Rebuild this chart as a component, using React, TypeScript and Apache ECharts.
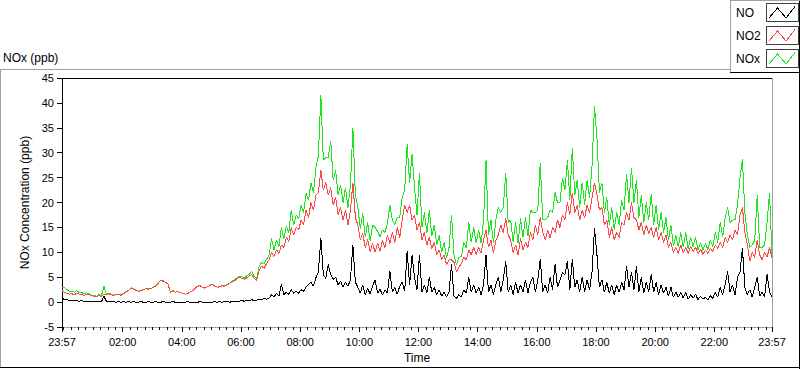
import React, { useEffect, useRef } from "react";
import * as echarts from "echarts";

// Sampling: one value every 5 minutes, first sample at 23:57 (minute -3 of the day)
const SAMPLE_START_MIN = -3;
const SAMPLE_STEP_MIN = 5;

// NO (ppb) — one row per hour starting 23:57
const NO_PPB = [
  0.7, 0.6, 0.5, 0.4, 0.3, 0.4, 0.3, 0.2, 0.3, 0.2, 0.2, 0.1,
  0.1, 0.2, 0.1, 0.2, 0.1, 1.2, 0.2, 0.1, 0.1, 0.1, 0.0, 0.1,
  0.0, 0.1, 0.0, 0.1, 0.0, 0.1, 0.0, 0.0, 0.1, 0.0, 0.0, 0.1,
  0.0, 0.0, 0.1, 0.0, 0.0, 0.1, 0.0, 0.0, 0.0, 0.1, 0.0, 0.0,
  0.0, 0.0, 0.0, 0.1, 0.0, 0.0, 0.0, 0.0, 0.1, 0.0, 0.0, 0.0,
  0.0, 0.0, 0.1, 0.0, 0.1, 0.0, 0.1, 0.1, 0.0, 0.1, 0.2, 0.1,
  0.2, 0.3, 0.2, 0.4, 0.3, 0.5, 0.3, 0.4, 0.6, 0.5, 0.8, 0.6,
  0.8, 1.5, 1.0, 1.8, 1.2, 3.6, 1.5, 2.0, 1.6, 2.5, 1.8, 2.2,
  1.8, 2.5, 2.2, 3.0, 3.5, 4.0, 3.2, 4.9, 6.0, 12.9, 5.5, 4.8,
  7.6, 5.5, 4.6, 5.0, 3.5, 4.2, 3.0, 4.0, 3.2, 4.5, 11.5, 4.0,
  3.0, 1.8, 3.5, 1.5, 2.8, 1.6, 3.2, 4.5, 1.8, 2.6, 1.5, 2.5,
  1.8, 6.2, 2.0, 3.0, 1.6, 3.2, 4.0, 2.2, 10.2, 3.5, 9.5, 4.9,
  2.5, 9.5, 2.0, 3.5, 1.8, 5.0, 2.0, 3.0, 1.5, 2.5, 1.2, 2.0,
  1.0, 2.0, 7.6, 1.2, 0.8, 1.5, 1.0, 2.5, 1.8, 5.0, 2.0, 3.5,
  1.8, 3.0, 1.5, 3.5, 9.5, 2.0, 3.5, 1.5, 3.5, 5.0, 2.0, 4.5,
  8.2, 2.0, 3.5, 1.5, 4.0, 1.8, 3.5, 2.0, 4.5, 1.8, 4.0, 5.0,
  2.0, 4.5, 8.6, 2.0, 3.5, 1.8, 5.0, 2.5, 7.6, 3.0, 4.5, 6.0,
  5.5, 8.2, 2.5, 8.6, 3.0, 4.5, 2.0, 5.0, 2.0, 4.5, 2.5, 6.0,
  14.8, 9.5, 3.0, 4.5, 2.0, 4.0, 1.8, 3.5, 1.5, 3.5, 2.0, 4.0,
  2.5, 7.2, 3.0, 6.0, 2.5, 7.2, 2.0, 5.0, 1.8, 4.0, 2.0, 5.6,
  2.0, 4.0, 1.5, 3.5, 1.8, 3.0, 1.2, 3.0, 1.0, 2.0, 1.0, 2.0,
  0.8, 2.0, 0.6, 1.5, 0.8, 1.6, 0.5, 1.2, 0.6, 1.0, 0.5, 1.3,
  0.8, 2.0, 1.0, 3.0, 1.5, 3.5, 6.2, 2.0, 3.5, 1.5, 5.0, 6.0,
  10.9, 3.0, 1.5, 2.5, 1.0, 3.0, 5.0, 1.2, 2.0, 1.0, 5.6, 2.0,
  1.0,
];

// NO2 (ppb)
const NO2_PPB = [
  2.3, 2.0, 1.8, 1.6, 1.7, 1.5, 1.8, 1.6, 1.5, 1.4, 1.6, 1.5,
  1.3, 1.2, 1.1, 1.3, 1.2, 1.6, 1.5, 1.7, 1.5, 1.3, 1.6, 1.5,
  1.4, 1.7, 2.1, 2.3, 2.9, 2.6, 2.4, 2.2, 2.3, 2.5, 2.7, 2.6,
  2.7, 3.0, 3.2, 3.8, 4.4, 4.2, 4.0, 3.6, 2.0, 2.2, 2.0, 2.1,
  2.0, 1.8, 1.6, 1.7, 2.1, 2.3, 2.8, 3.2, 3.3, 3.0, 2.8, 3.1,
  3.4, 3.6, 3.2, 3.0, 3.1, 3.3, 3.2, 3.5, 3.8, 4.1, 4.3, 4.8,
  5.0, 4.8, 4.6, 4.9, 5.3, 5.5, 4.8, 4.4, 6.5, 7.2, 6.8, 7.8,
  8.5, 10.0, 9.2, 10.5, 9.8, 11.5, 11.0, 13.0, 12.2, 15.0, 13.5, 15.0,
  14.5, 16.5, 15.5, 18.5, 17.0, 20.0, 18.5, 21.5, 22.0, 26.5, 22.5, 24.0,
  21.5, 23.0, 19.5, 21.0, 17.5, 19.0, 16.5, 18.5, 15.5, 18.5, 24.0, 17.0,
  15.5, 12.5, 13.8, 11.0, 12.6, 10.2, 11.8, 10.0, 11.9, 10.2, 12.4, 11.0,
  13.5, 11.8, 14.0, 12.0, 15.0, 13.0, 16.5, 19.5, 18.0, 19.5, 16.5, 17.5,
  14.5, 16.0, 12.5, 14.0, 11.5, 13.0, 10.8, 12.0, 9.5, 10.5, 8.5, 9.5,
  7.5, 8.5, 8.5, 8.0, 6.2, 7.0, 7.8, 9.0, 8.5, 10.5, 9.5, 11.0,
  9.5, 11.0, 9.8, 12.5, 14.5, 11.0, 12.5, 9.8, 12.5, 13.5, 15.5, 14.0,
  16.8, 13.5, 12.5, 10.0, 11.5, 9.5, 12.8, 10.5, 12.0, 11.0, 14.0, 12.5,
  15.5, 13.5, 17.0, 14.0, 12.5, 14.5, 12.9, 15.0, 14.0, 16.5, 15.0, 17.5,
  16.5, 20.0, 17.5, 22.0, 18.0, 19.5, 16.5, 18.5, 17.0, 19.5, 18.0, 21.0,
  24.0, 21.5, 18.5, 19.0, 15.5, 16.5, 13.0, 15.0, 12.5, 14.0, 13.0, 16.0,
  15.5, 18.0, 16.5, 20.0, 17.0, 16.5, 14.5, 16.0, 13.5, 15.5, 13.8, 15.0,
  13.0, 15.0, 12.5, 14.0, 12.0, 13.5, 11.0, 12.0, 10.0, 11.0, 9.8, 11.5,
  10.0, 11.0, 9.8, 11.2, 10.2, 11.0, 9.8, 10.6, 9.6, 10.5, 9.8, 10.8,
  10.2, 11.5, 10.8, 12.0, 11.0, 13.0, 12.0, 13.5, 12.5, 14.5, 13.5, 17.5,
  19.0, 14.0, 11.5, 8.2, 10.0, 9.0, 12.5, 9.5, 8.5, 10.0, 9.0, 11.0,
  8.9,
];

// NOx (ppb)
const NOX_PPB = [
  3.0, 2.9, 2.5, 2.2, 2.2, 2.0, 2.3, 1.9, 1.9, 1.7, 1.9, 1.7,
  1.4, 1.4, 1.2, 1.5, 1.3, 3.2, 1.7, 1.8, 1.6, 1.4, 1.6, 1.6,
  1.4, 1.8, 2.1, 2.4, 2.9, 2.7, 2.4, 2.2, 2.4, 2.5, 2.7, 2.7,
  2.7, 3.0, 3.3, 3.8, 4.4, 4.3, 4.0, 3.6, 2.0, 2.3, 2.0, 2.1,
  2.0, 1.8, 1.6, 1.8, 2.1, 2.3, 2.8, 3.2, 3.4, 3.0, 2.8, 3.1,
  3.4, 3.6, 3.3, 3.0, 3.2, 3.3, 3.3, 3.6, 3.8, 4.2, 4.5, 4.9,
  5.2, 5.1, 4.8, 5.3, 5.6, 6.2, 5.1, 4.8, 7.3, 7.9, 7.8, 8.6,
  9.5, 12.8, 10.5, 12.5, 11.2, 15.0, 12.8, 15.2, 14.0, 18.5, 15.5, 17.5,
  16.8, 19.5, 18.0, 21.8, 20.5, 24.0, 22.0, 27.0, 29.4, 41.6, 28.5, 29.0,
  29.0, 32.4, 24.5, 26.5, 21.5, 23.5, 20.0, 23.0, 19.0, 23.5, 35.0, 21.5,
  19.0, 14.8, 17.8, 13.0, 16.0, 12.2, 15.5, 15.0, 14.2, 13.2, 14.5, 14.0,
  15.8, 19.5, 16.5, 15.5, 17.0, 17.0, 21.0, 22.5, 31.7, 24.0, 29.7, 23.0,
  17.5, 26.0, 15.0, 18.0, 13.8, 18.5, 13.2, 15.5, 11.5, 13.5, 10.0, 12.0,
  8.8, 11.0, 17.5, 9.5, 7.5, 9.0, 9.2, 12.0, 10.8, 16.0, 12.0, 15.0,
  11.8, 14.5, 11.8, 16.5, 28.5, 13.5, 16.5, 11.8, 16.5, 19.0, 18.0, 19.0,
  26.0, 16.0, 16.5, 12.0, 16.0, 11.8, 16.8, 13.0, 17.0, 13.2, 18.5, 18.0,
  18.0, 18.5, 28.0, 16.5, 16.5, 17.0, 18.5, 18.0, 22.0, 20.0, 20.0, 25.0,
  22.5, 28.5, 20.5, 31.0, 21.5, 24.5, 19.0, 24.0, 19.5, 24.5, 21.0, 27.5,
  39.3, 33.0, 22.0, 24.0, 18.0, 21.0, 15.5, 19.0, 14.5, 18.0, 15.5, 20.5,
  18.5, 25.8, 20.0, 27.0, 20.0, 24.5, 17.0, 21.5, 16.0, 20.0, 16.5, 21.8,
  15.5, 19.5, 14.5, 18.0, 14.0, 17.0, 12.5, 15.5, 11.2, 13.5, 11.0, 14.0,
  11.0, 14.0, 10.6, 13.0, 11.2, 13.0, 10.5, 12.0, 10.4, 11.8, 10.5, 12.5,
  11.2, 14.0, 12.0, 16.0, 13.0, 17.0, 19.0, 16.0, 16.5, 16.5, 19.5, 24.8,
  28.7, 18.0, 13.5, 11.0, 11.5, 12.5, 21.5, 11.0, 11.0, 11.5, 16.0, 22.0,
  9.5,
];

// Time axis (minutes of the day): labelled ticks and 15-minute minor ticks
const MAJOR_TICKS = [-3, 120, 240, 360, 480, 600, 720, 840, 960, 1080, 1200, 1320, 1437];
const MINOR_TICKS: number[] = [];
for (let m = 0; m < 1437; m += 15) MINOR_TICKS.push(m);

const SERIES_NAMES = ["NO", "NO2", "NOx"];
const SERIES_COLORS = ["#000000", "#ff4848", "#1ee61e"];

const FONT = "'Liberation Sans', Arial, sans-serif";

function pad(n: number) {
  return n < 10 ? "0" + n : "" + n;
}
function fmtTime(v: number) {
  const m = ((Math.round(v) % 1440) + 1440) % 1440;
  return pad(Math.floor(m / 60)) + ":" + pad(m % 60);
}
function toPairs(values: number[]) {
  return values.map((v, i) => [SAMPLE_START_MIN + SAMPLE_STEP_MIN * i, v]);
}

export default function App() {
  const ref = useRef<HTMLDivElement>(null);

  useEffect(() => {
    if (!ref.current) return;
    const chart = echarts.init(ref.current, undefined, { renderer: "svg" });

    const legendTops = [3, 26, 49];
    const legendGraphics: any[] = [];
    SERIES_NAMES.forEach((name, i) => {
      const y0 = legendTops[i];
      legendGraphics.push({
        type: "text",
        left: 736,
        top: y0 + 4,
        style: { text: name, fill: "#000", font: `12px ${FONT}` },
      });
      legendGraphics.push({
        type: "rect",
        shape: { x: 766.5, y: y0 + 0.5, width: 32, height: 18 },
        style: { fill: "#fff", stroke: "#404040", lineWidth: 1 },
      });
      legendGraphics.push({
        type: "polyline",
        shape: {
          points: [
            [769, y0 + 15],
            [777.5, y0 + 5],
            [786, y0 + 15],
            [795, y0 + 3.5],
          ],
        },
        style: { stroke: SERIES_COLORS[i], lineWidth: 1, fill: "none" },
      });
    });

    const frameLine = (x1: number, y1: number, x2: number, y2: number, c: string) => ({
      type: "line",
      shape: { x1, y1, x2, y2 },
      style: { stroke: c, lineWidth: 1 },
      silent: true,
    });

    const option: any = {
      animation: false,
      backgroundColor: "#ffffff",
      textStyle: { fontFamily: FONT },
      title: {
        text: "NOx (ppb)",
        left: 3,
        top: 52,
        padding: 0,
        textStyle: { fontFamily: FONT, fontSize: 12, fontWeight: "normal", color: "#000" },
      },
      grid: { left: 62, top: 78, right: 28, bottom: 39, containLabel: false },
      xAxis: [
        {
          type: "value",
          min: -3,
          max: 1437,
          position: "bottom",
          name: "Time",
          nameLocation: "middle",
          nameGap: 24,
          nameTextStyle: { color: "#000", fontSize: 12, fontFamily: FONT },
          axisLine: { show: true, onZero: false, lineStyle: { color: "#a0a0a0", width: 1 } },
          axisTick: { show: true, customValues: MAJOR_TICKS, length: 5, lineStyle: { color: "#000" } },
          axisLabel: {
            show: true,
            customValues: MAJOR_TICKS,
            formatter: (v: number) => fmtTime(v),
            color: "#000",
            fontSize: 11,
            fontFamily: FONT,
            margin: 9,
          },
          splitLine: { show: false },
        },
        {
          type: "value",
          min: -3,
          max: 1437,
          position: "bottom",
          axisLine: { show: false, onZero: false },
          axisTick: { show: true, customValues: MINOR_TICKS, length: 3, lineStyle: { color: "#000" } },
          axisLabel: { show: false },
          splitLine: { show: false },
        },
        {
          type: "value",
          min: -3,
          max: 1437,
          position: "top",
          axisLine: { show: true, onZero: false, lineStyle: { color: "#000" } },
          axisTick: { show: false },
          axisLabel: { show: false },
          splitLine: { show: false },
        },
      ],
      yAxis: [
        {
          type: "value",
          min: -5,
          max: 45,
          interval: 5,
          position: "left",
          name: "NOx Concentration (ppb)",
          nameLocation: "middle",
          nameGap: 25,
          nameTextStyle: { color: "#000", fontSize: 12, fontFamily: FONT },
          axisLine: { show: true, onZero: false, lineStyle: { color: "#000" } },
          axisTick: { show: true, length: 5, lineStyle: { color: "#000" } },
          axisLabel: { color: "#000", fontSize: 11, fontFamily: FONT, margin: 8 },
          splitLine: { show: false },
        },
        {
          type: "value",
          min: -5,
          max: 45,
          position: "right",
          axisLine: { show: true, onZero: false, lineStyle: { color: "#a0a0a0" } },
          axisTick: { show: false },
          axisLabel: { show: false },
          splitLine: { show: false },
        },
      ],
      series: [
        {
          name: "NOx",
          type: "line",
          xAxisIndex: 0,
          yAxisIndex: 0,
          data: toPairs(NOX_PPB),
          showSymbol: false,
          symbol: "none",
          silent: true,
          lineStyle: { color: SERIES_COLORS[2], width: 1 },
          itemStyle: { color: SERIES_COLORS[2] },
        },
        {
          name: "NO2",
          type: "line",
          xAxisIndex: 0,
          yAxisIndex: 0,
          data: toPairs(NO2_PPB),
          showSymbol: false,
          symbol: "none",
          silent: true,
          lineStyle: { color: SERIES_COLORS[1], width: 1 },
          itemStyle: { color: SERIES_COLORS[1] },
        },
        {
          name: "NO",
          type: "line",
          xAxisIndex: 0,
          yAxisIndex: 0,
          data: toPairs(NO_PPB),
          showSymbol: false,
          symbol: "none",
          silent: true,
          lineStyle: { color: SERIES_COLORS[0], width: 1 },
          itemStyle: { color: SERIES_COLORS[0] },
        },
      ],
      graphic: [
        frameLine(0, 69.5, 730, 69.5, "#a0a0a0"),
        frameLine(0.5, 69, 0.5, 368, "#a0a0a0"),
        frameLine(0, 367.5, 800, 367.5, "#000"),
        frameLine(799.5, 0, 799.5, 369, "#000"),
        frameLine(730.5, 0, 730.5, 72, "#a0a0a0"),
        frameLine(730, 0.5, 800, 0.5, "#a0a0a0"),
        frameLine(730, 72.5, 800, 72.5, "#000"),
        ...legendGraphics,
      ],
    };

    chart.setOption(option);
    return () => chart.dispose();
  }, []);

  return (
    <>
      <style>{`.nox-chart svg path { shape-rendering: crispEdges; }`}</style>
      <div
        ref={ref}
        className="nox-chart"
        style={{ position: "absolute", left: 0, top: 0, width: 800, height: 369 }}
      />
    </>
  );
}
